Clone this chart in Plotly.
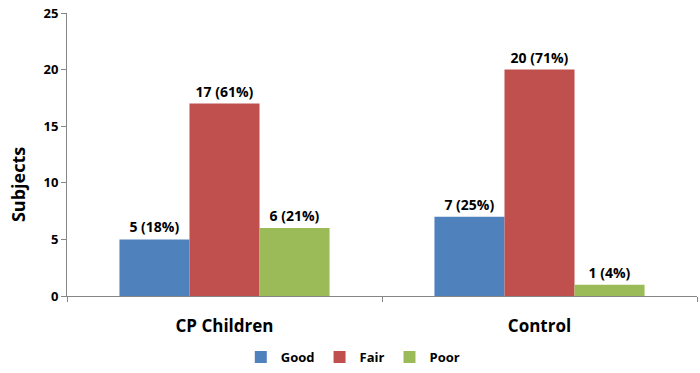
import plotly.graph_objects as go

categories = ["CP Children", "Control"]
good = [5, 7]
fair = [17, 20]
poor = [6, 1]
good_labels = ["5 (18%)", "7 (25%)"]
fair_labels = ["17 (61%)", "20 (71%)"]
poor_labels = ["6 (21%)", "1 (4%)"]

FONT = "Open Sans"
fig = go.Figure()
for name, vals, labels, color in [
    ("Good", good, good_labels, "#4F81BD"),
    ("Fair", fair, fair_labels, "#C0504D"),
    ("Poor", poor, poor_labels, "#9BBB59"),
]:
    fig.add_trace(go.Bar(
        x=categories, y=vals, name=name, text=labels,
        textposition="outside", cliponaxis=False,
        textfont=dict(family=FONT, size=14, color="black", weight="bold"),
        marker=dict(color=color, line=dict(width=0)),
    ))

fig.update_layout(
    width=700, height=373,
    margin=dict(l=67, r=3, t=13, b=77, autoexpand=False),
    plot_bgcolor="white", paper_bgcolor="white",
    barmode="group", bargap=0.333, bargroupgap=0,
    font=dict(family=FONT, color="black"),
    showlegend=True,
    legend=dict(orientation="h", xref="container", yref="container",
                x=0.504, xanchor="center", y=0.043, yanchor="middle",
                font=dict(family=FONT, size=13, weight="bold"),
                itemwidth=30, traceorder="normal"),
    xaxis=dict(showline=True, linecolor="#868686", linewidth=1, automargin=False,
               ticks="outside", tickson="boundaries", ticklen=5, tickcolor="#868686",
               tickfont=dict(family=FONT, size=17, weight="bold"),
               showgrid=False, ticklabelstandoff=15),
    yaxis=dict(range=[0, 25], dtick=5, showline=True, linecolor="#868686", linewidth=1,
               automargin=False,
               ticks="outside", ticklen=5, tickcolor="#868686",
               tickfont=dict(family=FONT, size=13, weight="bold"),
               showgrid=False, zeroline=False),
    annotations=[dict(text="<b>Subjects</b>", textangle=-90, showarrow=False,
                      xref="paper", yref="paper", x=0, y=0.392,
                      xanchor="center", yanchor="middle", xshift=-49,
                      font=dict(family=FONT, size=18, color="black"))],
)

fig.write_html("out.html", config={"displayModeBar": False},
               post_script="document.body.style.margin='0';")
